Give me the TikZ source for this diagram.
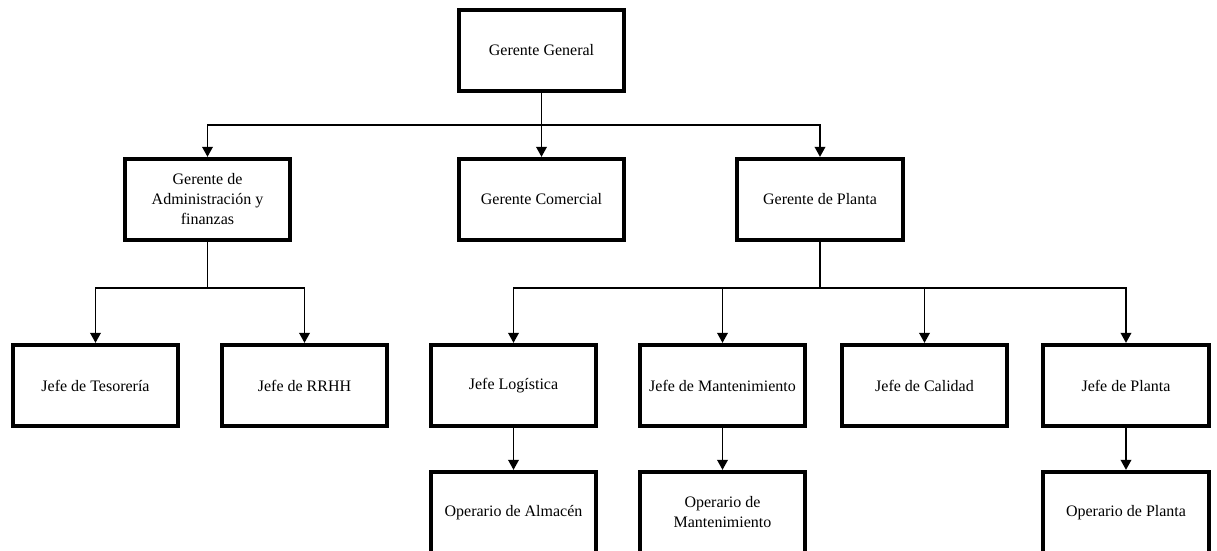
\documentclass[tikz,border=0pt]{standalone}
\usepackage{fontspec}
\setmainfont{Liberation Serif}
\usetikzlibrary{arrows.meta}
\begin{document}
\begin{tikzpicture}
      [x=0.75pt,y=-0.75pt,
       puesto/.style={draw, rectangle, line width=3pt, align=center, inner sep=2pt,
         minimum width=124pt, minimum height=61pt, font=\fontsize{12}{15}\selectfont},
       enlace/.style={line width=1.1pt, -{Triangle[length=7.5pt,width=8pt]}}]
    \useasboundingbox (0,0) rectangle (1217,550);

    \node[puesto] (gg) at (541.5,50.5) {Gerente General};

    \node[puesto] (adm) at (207.5,199.5) {Gerente de\\Administración y\\finanzas};
    \node[puesto] (com) at (541.5,199.5) {Gerente Comercial};
    \node[puesto] (gp) at (820,199.5) {Gerente de Planta};

    \node[puesto] (tes) at (95.5,385.5) {Jefe de Tesorería};
    \node[puesto] (rrhh) at (304.5,385.5) {Jefe de RRHH};
    \node[puesto] (log) at (513.5,385.5) {Jefe Logística};
    \node[puesto] (mant) at (722.5,385.5) {Jefe de Mantenimiento};
    \node[puesto] (cal) at (924.5,385.5) {Jefe de Calidad};
    \node[puesto] (jp) at (1126,385.5) {Jefe de Planta};

    \node[puesto] (opa) at (513.5,512.5) {Operario de Almacén};
    \node[puesto] (opm) at (722.5,512.5) {Operario de\\Mantenimiento};
    \node[puesto] (opp) at (1126,512.5) {Operario de Planta};

    \foreach \hijo in {adm, com, gp}
      \draw[enlace] (gg.south) -- ++(0,32) -| (\hijo.north);
    \foreach \hijo in {tes, rrhh}
      \draw[enlace] (adm.south) -- ++(0,46) -| (\hijo.north);
    \foreach \hijo in {log, mant, cal, jp}
      \draw[enlace] (gp.south) -- ++(0,46) -| (\hijo.north);
    \foreach \from/\to in {log/opa, mant/opm, jp/opp}
      \draw[enlace] (\from) -- (\to);
  \end{tikzpicture}
\end{document}
